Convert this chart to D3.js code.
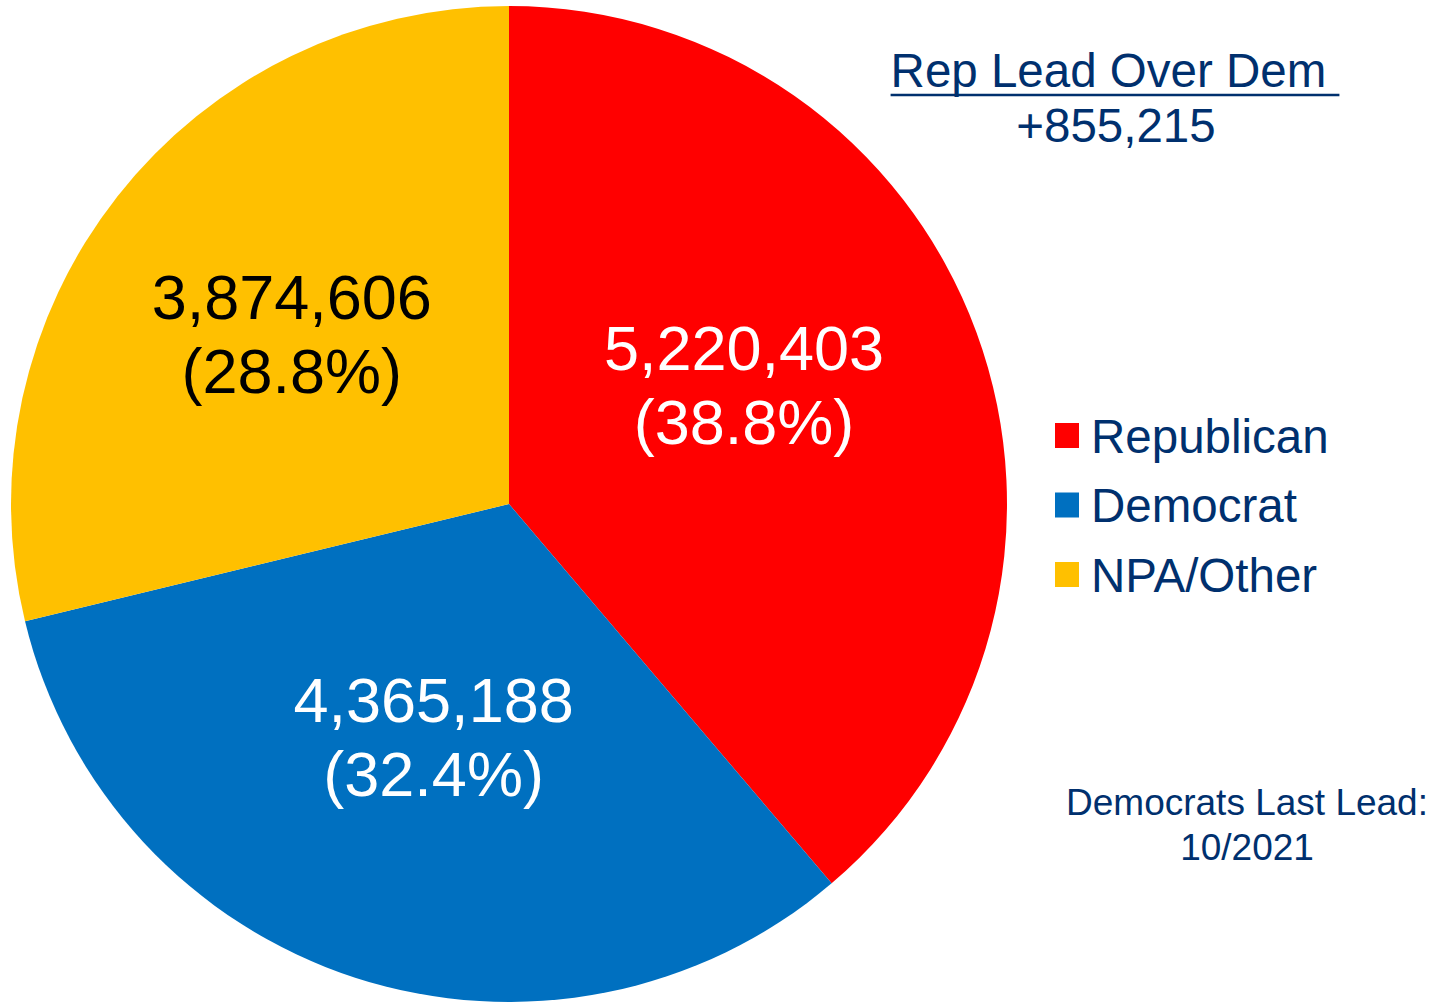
<!DOCTYPE html>
<html>
<head>
<meta charset="utf-8">
<script src="https://cdn.jsdelivr.net/npm/d3@7"></script>
<style>
  html, body { margin: 0; padding: 0; background: #ffffff; }
  svg { display: block; }
  text { font-family: "Liberation Sans", Arial, sans-serif; }
</style>
</head>
<body>
<svg id="chart" width="1431" height="1004"></svg>
<script>
// ---- data ----
const categories = ["Republican", "Democrat", "NPA/Other"];
const voters = [5220403, 4365188, 3874606];
const percents = ["38.8%", "32.4%", "28.8%"];
const colors = ["#FF0000", "#0070C0", "#FFC000"];
const labelColors = ["#FFFFFF", "#FFFFFF", "#000000"];
const leadTitle = "Rep Lead Over Dem ";
const leadValue = "+855,215";
const noteLines = ["Democrats Last Lead:", "10/2021"];

// ---- layout ----
const W = 1431, H = 1004;
const cx = 509, cy = 504, R = 498;
const navy = "#00306E";
const labelRadiusFactor = [0.53, 0.49, 0.555];
const labelAngleShift = [-0.12, 0, 0]; // radians
const labelFont = 63, labelLine = 74;

const svg = d3.select("#chart");
const data = categories.map((c, i) => ({ cat: c, value: voters[i], pct: percents[i], color: colors[i], lc: labelColors[i], i }));

const pie = d3.pie().sort(null).value(d => d.value).startAngle(0).endAngle(2 * Math.PI);
const arcs = pie(data);
const arc = d3.arc().innerRadius(0).outerRadius(R);

const g = svg.append("g").attr("transform", `translate(${cx},${cy})`);
g.selectAll("path.slice").data(arcs).enter().append("path")
  .attr("class", "slice")
  .attr("d", arc)
  .attr("fill", d => d.data.color);

const fmt = d3.format(",");
arcs.forEach(a => {
  const i = a.data.i;
  const mid = (a.startAngle + a.endAngle) / 2 + labelAngleShift[i];
  const r = R * labelRadiusFactor[i];
  const x = r * Math.sin(mid), y = -r * Math.cos(mid);
  const t = g.append("text")
    .attr("text-anchor", "middle")
    .attr("font-size", labelFont)
    .attr("fill", a.data.lc);
  t.append("tspan").attr("x", x).attr("y", y - labelLine / 2 + labelFont * 0.36).text(fmt(a.data.value));
  t.append("tspan").attr("x", x).attr("y", y + labelLine / 2 + labelFont * 0.36).text("(" + a.data.pct + ")");
});

// ---- lead annotation ----
const titleT = svg.append("text")
  .attr("x", 1115).attr("y", 87)
  .attr("text-anchor", "middle")
  .attr("font-size", 47.5)
  .attr("fill", navy)
  .attr("xml:space", "preserve")
  .style("white-space", "pre")
  .text(leadTitle);
const bb = titleT.node().getBBox();
svg.append("line")
  .attr("x1", bb.x).attr("x2", bb.x + bb.width)
  .attr("y1", 95).attr("y2", 95)
  .attr("stroke", navy).attr("stroke-width", 2.5);
svg.append("text")
  .attr("x", 1116).attr("y", 142)
  .attr("text-anchor", "middle")
  .attr("font-size", 47.5)
  .attr("fill", navy)
  .text(leadValue);

// ---- legend ----
const legend = svg.append("g");
const legY0 = 435.5, legStep = 69.5;
categories.forEach((c, i) => {
  const y = legY0 + i * legStep;
  legend.append("rect")
    .attr("x", 1055).attr("y", y - 12.5)
    .attr("width", 24).attr("height", 25)
    .attr("fill", colors[i]);
  legend.append("text")
    .attr("x", 1091).attr("y", y + 17)
    .attr("font-size", 47.5)
    .attr("fill", navy)
    .text(c);
});

// ---- note ----
noteLines.forEach((s, i) => {
  svg.append("text")
    .attr("x", 1247).attr("y", 815 + i * 45)
    .attr("text-anchor", "middle")
    .attr("font-size", 37)
    .attr("fill", navy)
    .text(s);
});
</script>
</body>
</html>
